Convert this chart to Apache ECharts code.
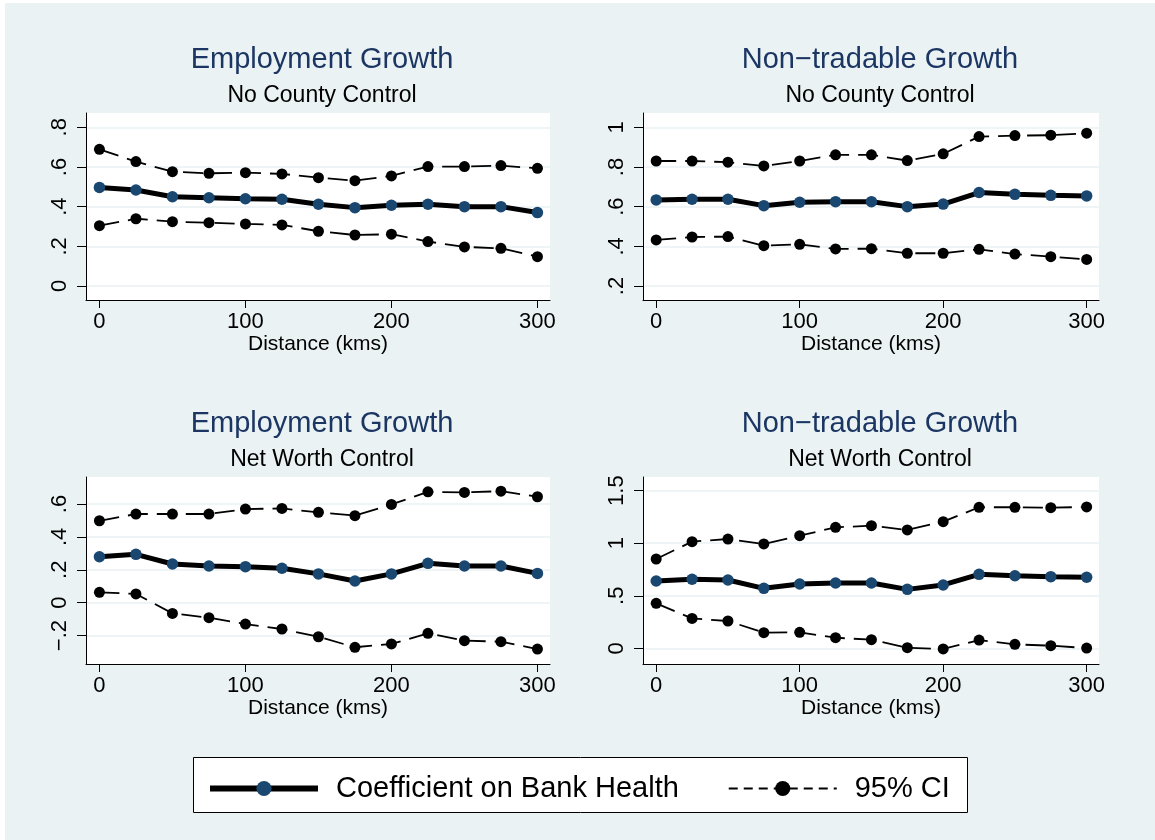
<!DOCTYPE html>
<html>
<head>
<meta charset="utf-8">
<script src="https://cdn.jsdelivr.net/npm/echarts@6/dist/echarts.min.js"></script>
<style>
  html, body { margin: 0; padding: 0; background: #ffffff; }
  #chart { width: 1155px; height: 840px; }
</style>
</head>
<body>
<div id="chart"></div>
<script>
// Distance bands (kms)
const distance = [0, 25, 50, 75, 100, 125, 150, 175, 200, 225, 250, 275, 300];
const distanceTicks = [0, 100, 200, 300];

// Employment growth, no county control
const empNoCtrlCoef = [0.497, 0.484, 0.450, 0.445, 0.440, 0.437, 0.412, 0.395, 0.407, 0.412, 0.400, 0.400, 0.370];
const empNoCtrlHigh = [0.689, 0.627, 0.576, 0.568, 0.571, 0.565, 0.546, 0.531, 0.555, 0.602, 0.602, 0.607, 0.593];
const empNoCtrlLow  = [0.304, 0.339, 0.324, 0.319, 0.313, 0.308, 0.276, 0.257, 0.261, 0.224, 0.197, 0.190, 0.148];
const empNoCtrlTicks = [0, 0.2, 0.4, 0.6, 0.8];

// Non-tradable growth, no county control
const ntNoCtrlCoef = [0.634, 0.637, 0.637, 0.605, 0.622, 0.625, 0.625, 0.600, 0.613, 0.671, 0.662, 0.657, 0.654];
const ntNoCtrlHigh = [0.830, 0.830, 0.824, 0.805, 0.830, 0.861, 0.861, 0.832, 0.866, 0.953, 0.958, 0.960, 0.970];
const ntNoCtrlLow  = [0.432, 0.447, 0.449, 0.403, 0.410, 0.387, 0.388, 0.365, 0.365, 0.385, 0.361, 0.348, 0.334];
const ntNoCtrlTicks = [0.2, 0.4, 0.6, 0.8, 1];

// Employment growth, net worth control
const empNwCoef = [0.279, 0.294, 0.235, 0.223, 0.219, 0.209, 0.175, 0.132, 0.175, 0.239, 0.223, 0.223, 0.178];
const empNwHigh = [0.498, 0.539, 0.539, 0.539, 0.569, 0.573, 0.549, 0.529, 0.597, 0.674, 0.670, 0.678, 0.644];
const empNwLow  = [0.063, 0.053, -0.065, -0.091, -0.130, -0.160, -0.207, -0.271, -0.251, -0.186, -0.231, -0.237, -0.282];
const empNwTicks = [-0.2, 0, 0.2, 0.4, 0.6];

// Non-tradable growth, net worth control
const ntNwCoef = [0.641, 0.657, 0.650, 0.571, 0.612, 0.622, 0.622, 0.561, 0.603, 0.704, 0.691, 0.682, 0.676];
const ntNwHigh = [0.850, 1.015, 1.040, 0.993, 1.072, 1.151, 1.167, 1.126, 1.205, 1.342, 1.342, 1.338, 1.345];
const ntNwLow  = [0.428, 0.285, 0.260, 0.149, 0.152, 0.101, 0.082, 0.006, -0.006, 0.079, 0.038, 0.025, 0.003];
const ntNwTicks = [0, 0.5, 1, 1.5];

const panelTitles = ['Employment Growth', 'Non\u2212tradable Growth', 'Employment Growth', 'Non\u2212tradable Growth'];
const panelSubtitles = ['No County Control', 'No County Control', 'Net Worth Control', 'Net Worth Control'];
const xAxisTitle = 'Distance (kms)';
const coefName = 'Coefficient on Bank Health';
const ciName = '95% CI';

const FONT = '"Liberation Sans", Arial, Helvetica, sans-serif';
const NAVY = '#1A476F';
const TITLE_NAVY = '#1c3663';
const BG = '#EAF2F3';

// Panel layout: plot rectangles, axis extents, title anchor
const panels = [
  { left: 86,  top: 113, width: 464, height: 187, yMin: -0.0706, yMax: 0.872, cx: 322, ty: 45,
    coef: empNoCtrlCoef, high: empNoCtrlHigh, low: empNoCtrlLow, ticks: empNoCtrlTicks },
  { left: 643, top: 113, width: 456, height: 187, yMin: 0.1294, yMax: 1.072, cx: 880, ty: 45,
    coef: ntNoCtrlCoef, high: ntNoCtrlHigh, low: ntNoCtrlLow, ticks: ntNoCtrlTicks },
  { left: 86,  top: 477, width: 464, height: 187, yMin: -0.3727, yMax: 0.764, cx: 322, ty: 409,
    coef: empNwCoef, high: empNwHigh, low: empNwLow, ticks: empNwTicks },
  { left: 643, top: 477, width: 456, height: 187, yMin: -0.149, yMax: 1.63, cx: 880, ty: 409,
    coef: ntNwCoef, high: ntNwHigh, low: ntNwLow, ticks: ntNwTicks }
];

// Stata-style numeric labels: no leading zero, true minus sign
function stataLabel(v) {
  const r = Math.round(v * 1000) / 1000;
  if (r === 0) return '0';
  let s = String(Math.abs(r)).replace(/^0\./, '.');
  return (r < 0 ? '\u2212' : '') + s;
}

const pairs = (ys) => distance.map((d, i) => [d, ys[i]]);

const grid = [], xAxis = [], yAxis = [], series = [], title = [];

panels.forEach((p, i) => {
  grid.push({ left: p.left, top: p.top, width: p.width, height: p.height,
              backgroundColor: '#ffffff', show: true, borderWidth: 0 });

  xAxis.push({
    type: 'value', gridIndex: i, min: -9.2, max: 308.6,
    axisLine: { show: true, onZero: false, lineStyle: { color: '#000', width: 1 } },
    axisTick: { show: true, length: 8, customValues: distanceTicks, lineStyle: { color: '#000', width: 1 } },
    axisLabel: { customValues: distanceTicks, fontSize: 22, color: '#000', fontFamily: FONT, margin: 11,
                 formatter: (v) => String(v) },
    splitLine: { show: false },
    name: xAxisTitle, nameLocation: 'middle', nameGap: 34,
    nameTextStyle: { fontSize: 21, color: '#000', fontFamily: FONT }
  });

  yAxis.push({
    type: 'value', gridIndex: i, min: p.yMin, max: p.yMax,
    axisLine: { show: true, onZero: false, lineStyle: { color: '#000', width: 1 } },
    axisTick: { show: true, length: 9, customValues: p.ticks, lineStyle: { color: '#000', width: 1 } },
    axisLabel: { customValues: p.ticks, rotate: 90, fontSize: 22, color: '#000', fontFamily: FONT, margin: 15,
                 formatter: stataLabel },
    splitLine: { show: true, lineStyle: { color: BG, width: 1.5 } }
  });

  const ciSeries = (data) => ({
    name: ciName, type: 'line', xAxisIndex: i, yAxisIndex: i, data: pairs(data),
    symbol: 'circle', symbolSize: 11, itemStyle: { color: '#000' },
    lineStyle: { color: '#000', width: 1.8, type: [20, 9] }, z: 2
  });
  series.push(ciSeries(p.high));
  series.push(ciSeries(p.low));
  series.push({
    name: coefName, type: 'line', xAxisIndex: i, yAxisIndex: i, data: pairs(p.coef),
    symbol: 'circle', symbolSize: 11.5, itemStyle: { color: NAVY },
    lineStyle: { color: '#000', width: 5 }, z: 3
  });

  title.push({ text: panelTitles[i], left: p.cx, top: p.ty, textAlign: 'center', padding: 0,
               textStyle: { fontSize: 29, fontWeight: 'normal', color: TITLE_NAVY, fontFamily: FONT } });
  title.push({ text: panelSubtitles[i], left: p.cx, top: p.ty + 39.5, textAlign: 'center', padding: 0,
               textStyle: { fontSize: 23, fontWeight: 'normal', color: '#000', fontFamily: FONT } });
});

const chart = echarts.init(document.getElementById('chart'), null, { renderer: 'canvas' });
chart.setOption({
  animation: false,
  backgroundColor: '#ffffff',
  graphic: [
    { type: 'rect', z: -100, silent: true, shape: { x: 5, y: 3, width: 1150, height: 837 }, style: { fill: BG } },
    { type: 'rect', z: -50, silent: true, shape: { x: 193.5, y: 757.5, width: 774, height: 55 },
      style: { fill: '#ffffff', stroke: '#000', lineWidth: 1 } }
  ],
  title: title,
  grid: grid,
  xAxis: xAxis,
  yAxis: yAxis,
  legend: {
    left: 207, top: 774, padding: 0, itemGap: 49, itemWidth: 108, itemHeight: 19,
    selectedMode: false,
    textStyle: { fontSize: 29, color: '#000', fontFamily: FONT, padding: [0, 0, 0, 13] },
    data: [
      { name: coefName, lineStyle: { width: 6, color: '#000' }, itemStyle: { color: NAVY } },
      { name: ciName, lineStyle: { width: 1.8, color: '#000', type: [9, 6] }, itemStyle: { color: '#000' } }
    ]
  },
  series: series
});
</script>
</body>
</html>
